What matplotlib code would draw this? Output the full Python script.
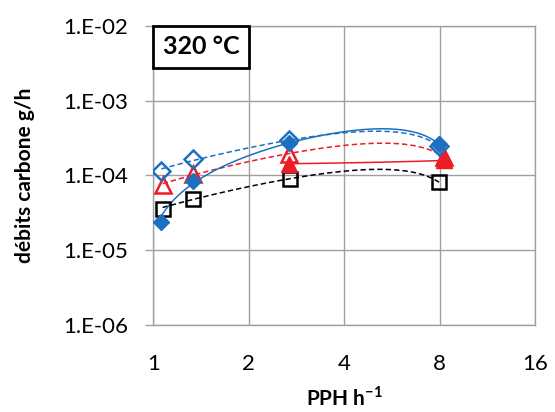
import numpy as np
import matplotlib
matplotlib.use('Agg')
import matplotlib.pyplot as plt
from matplotlib.patches import Rectangle
from matplotlib.ticker import FixedLocator, FixedFormatter, NullLocator

plt.rcParams['font.family'] = ['Lato', 'DejaVu Sans']
plt.rcParams['mathtext.fontset'] = 'custom'
plt.rcParams['mathtext.rm'] = 'Lato'
plt.rcParams['mathtext.bf'] = 'Lato:bold'

# PPH (h-1) for each series
x_open = [1.06, 1.33, 2.68, 7.97]
x_tri = [1.07, 1.33, 2.68, 8.25]
x_tri_full = [2.68, 8.25]
x_sq = [1.07, 1.33, 2.70, 7.97]

# carbon flow rates g/h
y_diam_open = [1.14e-4, 1.67e-4, 2.93e-4, 2.45e-4]
y_diam_full = [2.4e-5, 8.3e-5, 2.7e-4, 2.6e-4]
y_tri_open = [7.4e-5, 1.05e-4, 1.95e-4, 1.75e-4]
y_tri_full = [1.43e-4, 1.58e-4]
y_sq_open = [3.6e-5, 4.9e-5, 9.0e-5, 8.1e-5]

xticks = [1, 2, 4, 8, 16]
yticks = [1e-6, 1e-5, 1e-4, 1e-3, 1e-2]
ytick_labels = ['1.E-06', '1.E-05', '1.E-04', '1.E-03', '1.E-02']

blue = '#1f6fc0'
red = '#ee1c24'


# tendance polynomiale (ordre 2) comme Excel
def trend(ax, x, y, deg, color, ls):
	c = np.polyfit(x, y, deg)
	xs = np.linspace(min(x), max(x), 200)
	ax.plot(xs, np.polyval(c, xs), color=color, ls=ls, lw=1.1, zorder=2)


fig = plt.figure(figsize=(5.55, 4.12), dpi=100)
ax = fig.add_axes([0.2763, 0.2112, 0.6877, 0.7264])
ax.set_xscale('log', base=2)
ax.set_yscale('log')
ax.set_xlim(1, 16)
ax.set_ylim(1e-6, 1e-2)

dash = (0, (3.5, 2))
trend(ax, x_sq, y_sq_open, 2, 'black', dash)
trend(ax, x_tri, y_tri_open, 2, red, dash)
trend(ax, x_tri_full, y_tri_full, 1, red, '-')
trend(ax, x_open, y_diam_open, 2, blue, dash)
trend(ax, x_open, y_diam_full, 2, blue, '-')

ax.plot(x_sq, y_sq_open, ls='none', marker='s', ms=10.5, mfc='none', mec='black', mew=1.8, zorder=3)
ax.plot(x_tri, y_tri_open, ls='none', marker='^', ms=11, mfc='none', mec=red, mew=1.8, zorder=3)
ax.plot(x_tri_full, y_tri_full, ls='none', marker='^', ms=11, mfc=red, mec=red, zorder=4)
ax.plot(x_open, y_diam_open, ls='none', marker='D', ms=9.5, mfc='none', mec=blue, mew=1.8, zorder=3)
ax.plot(x_open, y_diam_full, ls='none', marker='D', ms=8, mfc=blue, mec=blue, zorder=5)

ax.xaxis.set_major_locator(FixedLocator(xticks))
ax.xaxis.set_major_formatter(FixedFormatter([str(v) for v in xticks]))
ax.xaxis.set_minor_locator(NullLocator())
ax.yaxis.set_major_locator(FixedLocator(yticks))
ax.yaxis.set_major_formatter(FixedFormatter(ytick_labels))
ax.yaxis.set_minor_locator(NullLocator())

ax.grid(True, color='#a0a0a0', lw=1)
ax.set_axisbelow(True)
for s in ax.spines.values():
	s.set_color('#a0a0a0')
	s.set_linewidth(1)
ax.tick_params(axis='x', length=0, pad=21, labelsize=16)
ax.tick_params(axis='y', length=6, width=1, color='#a0a0a0', pad=12, labelsize=16)

ax.set_xlabel('PPH h$^{\\mathbf{-1}}$', fontsize=15, fontweight='bold', va='center')
ax.xaxis.set_label_coords(0.5, -0.244)
ax.set_ylabel('débits carbone g/h', fontsize=15, fontweight='bold', va='center')
ax.yaxis.set_label_coords(-0.335, 0.5)

# cadre "320 °C" collé au coin haut gauche
box_w, box_h = 0.251, 0.141
ax.add_patch(Rectangle((0, 1 - box_h), box_w, box_h, transform=ax.transAxes,
	fc='white', ec='black', lw=2, zorder=6, clip_on=False))
ax.text(box_w / 2, 1 - box_h / 2, '320 °C', transform=ax.transAxes, fontsize=18,
	fontweight='bold', ha='center', va='center', zorder=7)

fig.savefig('out.png', dpi=100)
